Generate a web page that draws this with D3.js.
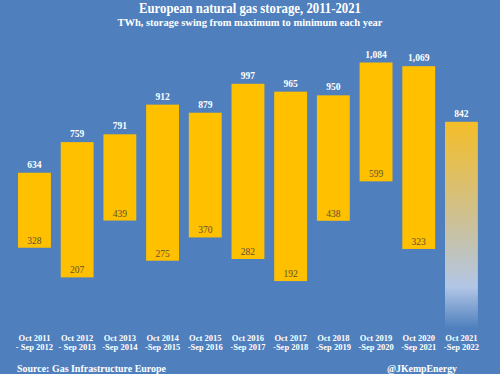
<!DOCTYPE html>
<html><head><meta charset="utf-8">
<script src="https://cdn.jsdelivr.net/npm/d3@7"></script>
<style>body{margin:0;background:#4f80bd;}svg{display:block;}</style>
</head><body>
<script>
const catLine1 = ["Oct 2011","Oct 2012","Oct 2013","Oct 2014","Oct 2015","Oct 2016","Oct 2017","Oct 2018","Oct 2019","Oct 2020","Oct 2021"];
const catLine2 = ["- Sep 2012","- Sep 2013","-Sep 2014","-Sep 2015","-Sep 2016","-Sep 2017","-Sep 2018","-Sep 2019","-Sep 2020","-Sep 2021","-Sep 2022"];
const maxVals = [634,759,791,912,879,997,965,950,1084,1069,842];
const minVals = [328,207,439,275,370,282,192,438,599,323,null];

const W=500,H=374;
const svg=d3.select("body").append("svg").attr("width",W).attr("height",H);
svg.append("rect").attr("width",W).attr("height",H).attr("fill","#4f80bd");

const x=d3.scaleBand().domain(d3.range(maxVals.length)).range([8.2,487.7]).paddingInner(0.23).paddingOuter(0.23);
const y=d3.scaleLinear().domain([0,1084]).range([328.1,62.5]);

const defs=svg.append("defs");
const g=defs.append("linearGradient").attr("id","fade").attr("x1",0).attr("y1",0).attr("x2",0).attr("y2",1);
g.append("stop").attr("offset","0%").attr("stop-color","#f5be28");
g.append("stop").attr("offset","45%").attr("stop-color","#cfc08e");
g.append("stop").attr("offset","80%").attr("stop-color","#b2c6e6");
g.append("stop").attr("offset","100%").attr("stop-color","#4f80bd");

const serif="'Liberation Serif','DejaVu Serif',serif";

svg.append("text").attr("x",250).attr("y",13).attr("text-anchor","middle")
  .attr("font-family",serif).attr("font-weight","bold").attr("font-size",14.5).attr("fill","#fff")
  .attr("textLength",222).attr("lengthAdjust","spacingAndGlyphs")
  .text("European natural gas storage, 2011-2021");
svg.append("text").attr("x",250).attr("y",26).attr("text-anchor","middle")
  .attr("font-family",serif).attr("font-weight","bold").attr("font-size",10.5).attr("fill","#fff")
  .attr("textLength",265).attr("lengthAdjust","spacingAndGlyphs")
  .text("TWh, storage swing from maximum to minimum each year");

const idx=d3.range(maxVals.length);
svg.selectAll("rect.bar").data(idx).join("rect").attr("class","bar")
  .attr("x",i=>x(i)).attr("width",x.bandwidth())
  .attr("y",i=>y(maxVals[i]))
  .attr("height",i=>(minVals[i]==null?y(0):y(minVals[i]))-y(maxVals[i]))
  .attr("fill",i=>minVals[i]==null?"url(#fade)":"#ffc000");

svg.selectAll("text.top").data(idx).join("text").attr("class","top")
  .attr("x",i=>x(i)+x.bandwidth()/2).attr("y",i=>y(maxVals[i])-5)
  .attr("text-anchor","middle").attr("font-family",serif).attr("font-weight","bold")
  .attr("font-size",9.5).attr("fill","#fff").text(i=>d3.format(",")(maxVals[i]));

svg.selectAll("text.bot").data(idx.filter(i=>minVals[i]!=null)).join("text").attr("class","bot")
  .attr("x",i=>x(i)+x.bandwidth()/2).attr("y",i=>y(minVals[i])-4)
  .attr("text-anchor","middle").attr("font-family",serif)
  .attr("font-size",9.5).attr("fill","#5e5035").text(i=>minVals[i]);

const cat=svg.selectAll("g.cat").data(idx).join("g").attr("class","cat")
  .attr("transform",i=>`translate(${x(i)+x.bandwidth()/2},0)`);
cat.append("text").attr("y",341).attr("text-anchor","middle").attr("font-family",serif)
  .attr("font-weight","bold").attr("font-size",8.5).attr("fill","#fff").text(i=>catLine1[i]);
cat.append("text").attr("y",350).attr("text-anchor","middle").attr("font-family",serif)
  .attr("font-weight","bold").attr("font-size",8.5).attr("fill","#fff").text(i=>catLine2[i]);

svg.append("text").attr("x",17).attr("y",372).attr("font-family",serif).attr("font-weight","bold")
  .attr("font-size",11).attr("fill","#fff")
  .attr("textLength",149).attr("lengthAdjust","spacingAndGlyphs")
  .text("Source: Gas Infrastructure Europe");
svg.append("text").attr("x",457).attr("y",372).attr("text-anchor","end").attr("font-family",serif).attr("font-weight","bold")
  .attr("font-size",11).attr("fill","#fff")
  .attr("textLength",70).attr("lengthAdjust","spacingAndGlyphs")
  .text("@JKempEnergy");
</script>
</body></html>
